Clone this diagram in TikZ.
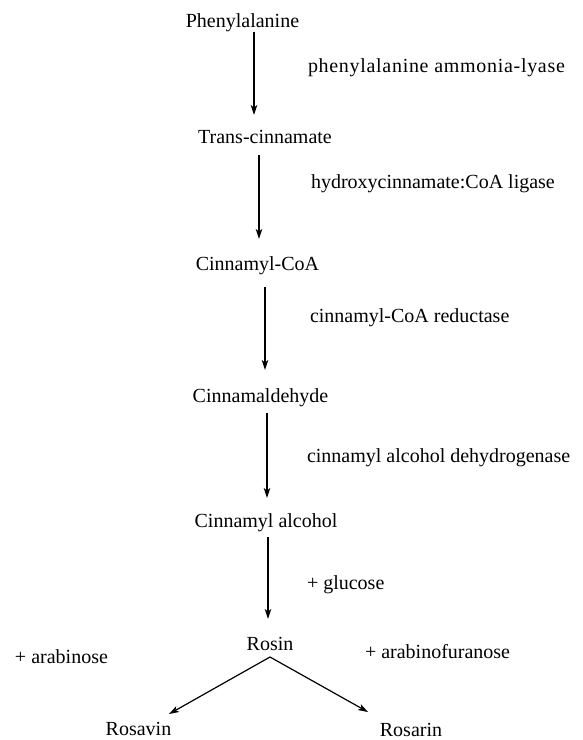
\documentclass[tikz,border=0pt]{standalone}
\usepackage{fontspec}
\setmainfont{Liberation Serif}
\usetikzlibrary{arrows.meta}
\begin{document}
\begin{tikzpicture}[x=1pt,y=-1pt,
  every node/.style={inner sep=0pt,outer sep=0pt,font=\fontsize{20}{24}\selectfont},
  cmpd/.style={anchor=base},
  enz/.style={anchor=base west},
  arr/.style={line width=1.2pt,-{Stealth[length=10pt,width=6.5pt,inset=2.5pt]}}]
\useasboundingbox (0,0) rectangle (583,740);
% compounds
\node[cmpd] (A) at (242.5,27) {Phenylalanine};
\node[cmpd] (B) at (265,143) {Trans-cinnamate};
\node[cmpd] (C) at (257.5,270) {Cinnamyl-CoA};
\node[cmpd] (D) at (260.5,402) {Cinnamaldehyde};
\node[cmpd] (E) at (266,527) {Cinnamyl alcohol};
\node[cmpd] (F) at (270,650) {Rosin};
\node[cmpd] (G) at (138.5,735) {Rosavin};
\node[cmpd] (H) at (411,736) {Rosarin};
% enzymes / reagents
\node[enz] (L1) at (308,72) {\addfontfeature{LetterSpace=3.5}phenylalanine ammonia-lyase};
\node[enz] (L2) at (311,188) {hydroxycinnamate:CoA ligase};
\node[enz] (L3) at (310,322) {cinnamyl-CoA reductase};
\node[enz] (L4) at (307,462) {cinnamyl alcohol dehydrogenase};
\node[enz] (L5) at (307,589) {+ glucose};
\node[enz] (L6) at (15,663) {+ arabinose};
\node[enz] (L7) at (365,658) {+ arabinofuranose};
% arrows
\draw[arr] ([shift={(11.5,5)}]A.base) -- ([shift={(-11,-28)}]B.base);
\draw[arr] ([shift={(-6,12)}]B.base) -- ([shift={(1.5,-31)}]C.base);
\draw[arr] ([shift={(7.5,17)}]C.base) -- ([shift={(4.5,-32)}]D.base);
\draw[arr] ([shift={(6.5,11)}]D.base) -- ([shift={(1,-29)}]E.base);
\draw[arr] ([shift={(2,10)}]E.base) -- ([shift={(-2,-31)}]F.base);
\draw[arr] ([shift={(0,7)}]F.base) -- ([shift={(30.5,-21)}]G.base);
\draw[arr] ([shift={(0,7)}]F.base) -- ([shift={(-43,-24)}]H.base);
\end{tikzpicture}
\end{document}
